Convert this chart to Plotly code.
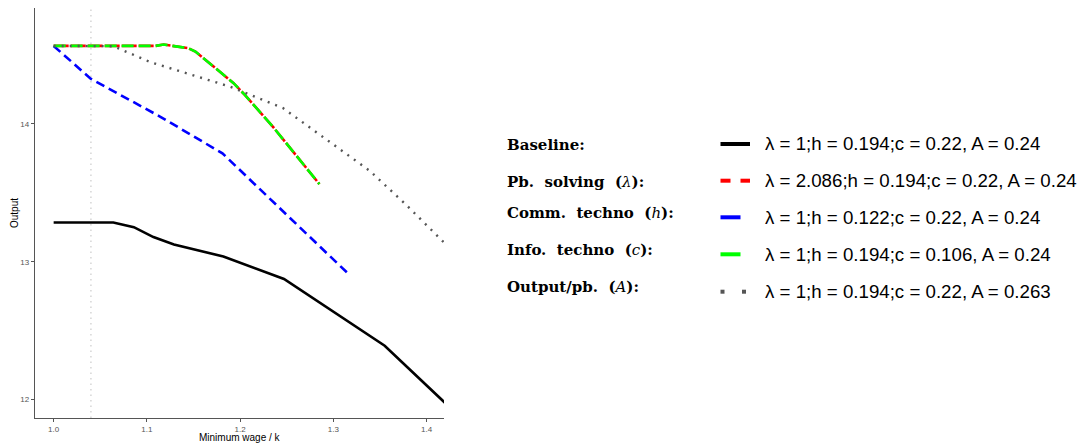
import plotly.graph_objects as go

# ---- data ----
base_x = [1.0, 1.064, 1.086, 1.107, 1.129, 1.182, 1.247, 1.355, 1.42]
base_y = [13.285, 13.285, 13.251, 13.179, 13.125, 13.038, 12.875, 12.391, 11.975]

lam_x = [1.0, 1.109, 1.118, 1.144, 1.152, 1.193, 1.205, 1.235, 1.285]
lam_y = [14.565, 14.565, 14.575, 14.549, 14.524, 14.295, 14.21, 13.98, 13.563]

h_x = [1.0, 1.04, 1.114, 1.181, 1.318]
h_y = [14.565, 14.326, 14.053, 13.786, 12.90]

c_x = lam_x
c_y = lam_y

a_x = [1.0, 1.064, 1.104, 1.189, 1.246, 1.289, 1.339, 1.378, 1.42]
a_y = [14.565, 14.563, 14.447, 14.270, 14.114, 13.901, 13.659, 13.413, 13.13]

vline_x = 1.04

x_ticks = [1.0, 1.1, 1.2, 1.3, 1.4]
y_ticks = [12, 13, 14]

SP = "\u2002\u2009"
group_labels = [
    "<b>Baseline:</b>",
    f"<b>Pb.{SP}solving{SP}(</b><i>λ</i><b>):</b>",
    f"<b>Comm.{SP}techno{SP}(</b><i>h</i><b>):</b>",
    f"<b>Info.{SP}techno{SP}(</b><i>c</i><b>):</b>",
    f"<b>Output/pb.{SP}(</b><i>A</i><b>):</b>",
]
param_labels = ["λ = 1;h = 0.194;c = 0.22, A = 0.24",
                "λ = 2.086;h = 0.194;c = 0.22, A = 0.24",
                "λ = 1;h = 0.122;c = 0.22, A = 0.24",
                "λ = 1;h = 0.194;c = 0.106, A = 0.24",
                "λ = 1;h = 0.194;c = 0.22, A = 0.263"]

# ---- layout geometry ----
W, H = 1086, 443
ML, MR, MT, MB = 35, 0, 8, 25
PW = W - ML - MR
PH = H - MT - MB
PLOT_RIGHT = 444


def px(x):
    return (x - ML) / PW


def py(y):
    return (H - MB - y) / PH


fig = go.Figure()
fig.add_trace(go.Scatter(x=base_x, y=base_y, mode="lines",
                         line=dict(color="black", width=2.6), showlegend=False))
fig.add_trace(go.Scatter(x=lam_x, y=lam_y, mode="lines",
                         line=dict(color="#ff0000", width=2.6, dash="15px,2px"), showlegend=False))
fig.add_trace(go.Scatter(x=h_x, y=h_y, mode="lines",
                         line=dict(color="#0000ff", width=2.6, dash="9px,5px"), showlegend=False))
fig.add_trace(go.Scatter(x=c_x, y=c_y, mode="lines",
                         line=dict(color="#00ff00", width=2.6, dash="12px,5px"), showlegend=False))
fig.add_trace(go.Scatter(x=a_x, y=a_y, mode="lines",
                         line=dict(color="#555555", width=2.4, dash="2px,6px"), showlegend=False))

fig.add_vline(x=vline_x, line=dict(color="#c0c0c0", width=1, dash="1.5px,4px"), layer="below")

axis_common = dict(showgrid=False, zeroline=False, showline=True, linecolor="#555555",
                   linewidth=1.3, ticks="outside", ticklen=3, tickwidth=1, tickcolor="#555555",
                   automargin=False,
                   tickfont=dict(family="Liberation Sans, Arial", size=8, color="#555555"))

fig.update_layout(
    width=W, height=H, margin=dict(l=ML, r=MR, t=MT, b=MB),
    plot_bgcolor="white", paper_bgcolor="white",
    xaxis=dict(range=[0.980, 1.4186], domain=[0, (PLOT_RIGHT - ML) / PW],
               tickvals=x_ticks, ticktext=[f"{v:.1f}" for v in x_ticks], **axis_common),
    yaxis=dict(range=[11.867, 14.84], tickvals=y_ticks, ticktext=[str(v) for v in y_ticks],
               **axis_common),
)

# axis titles
fig.add_annotation(x=px(239.5), y=py(437), xref="paper", yref="paper", text="Minimum wage / k",
                   showarrow=False, font=dict(family="Liberation Sans, Arial", size=10, color="black"),
                   xanchor="center", yanchor="middle")
fig.add_annotation(x=px(14), y=py(213), xref="paper", yref="paper", text="Output", textangle=-90,
                   showarrow=False, font=dict(family="Liberation Sans, Arial", size=10, color="black"),
                   xanchor="center", yanchor="middle")

# legend (manual)
left_y = [145, 181.7, 212.7, 250, 286.7]
right_y = [144, 180.7, 217.3, 254.3, 291.7]
for lab, yy in zip(group_labels, left_y):
    fig.add_annotation(x=px(505), y=py(yy), xref="paper", yref="paper", text=lab,
                       showarrow=False, xanchor="left", yanchor="middle",
                       font=dict(family="DejaVu Serif", size=15, color="black"))
for lab, yy in zip(param_labels, right_y):
    fig.add_annotation(x=px(763), y=py(yy), xref="paper", yref="paper", text=lab,
                       showarrow=False, xanchor="left", yanchor="middle",
                       font=dict(family="Liberation Sans, Arial", size=18.7, color="black"))

key_w = 4


def key_seg(x0, x1, yy, color):
    fig.add_shape(type="line", xref="paper", yref="paper", x0=px(x0), x1=px(x1),
                  y0=py(yy), y1=py(yy), line=dict(color=color, width=key_w))


key_seg(720.5, 750, right_y[0], "black")
key_seg(720.5, 730.5, right_y[1], "#ff0000")
key_seg(740.5, 750, right_y[1], "#ff0000")
key_seg(720.5, 740.5, right_y[2], "#0000ff")
key_seg(720.5, 740.5, right_y[3], "#00ff00")
key_seg(720.5, 724.5, right_y[4], "#555555")
key_seg(742, 746, right_y[4], "#555555")

fig.write_html("out.html", config={"displayModeBar": False},
               post_script="document.body.style.margin='0';document.body.style.overflow='hidden';")
